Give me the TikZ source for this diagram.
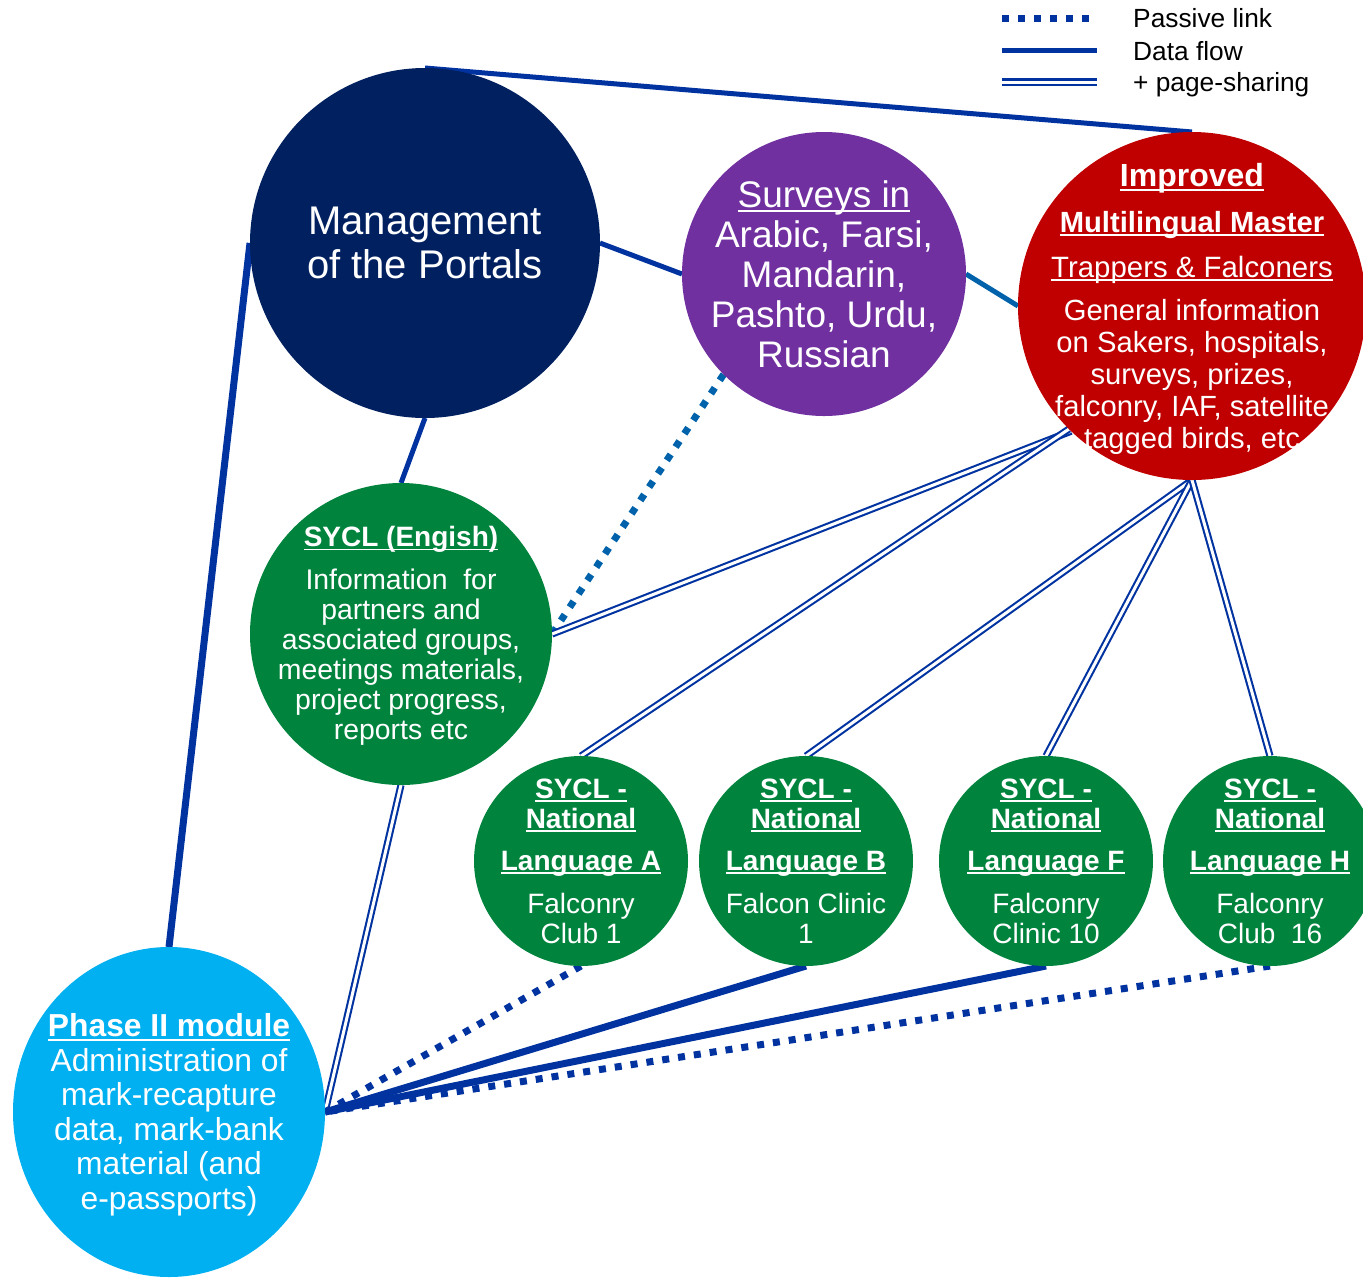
\documentclass[tikz,border=0pt]{standalone}
\usepackage{fontspec}
\setmainfont{Liberation Sans}
\usetikzlibrary{backgrounds,shapes.geometric}

\definecolor{linkblue}{HTML}{0033A0}
\definecolor{softblue}{HTML}{0062AA}
\definecolor{portalnavy}{HTML}{002060}
\definecolor{surveyviolet}{HTML}{7030A0}
\definecolor{masterred}{HTML}{C00000}
\definecolor{syclgreen}{HTML}{00843D}
\definecolor{phaseblue}{HTML}{00B0F0}

% underline drawn in the current text colour, scaled with the font
\newsavebox\ulbox
\newcommand\uln[1]{\sbox\ulbox{#1}\rlap{\rule[-0.13em]{\wd\ulbox}{0.065em}}\usebox\ulbox}

\tikzset{
  ball/.style={circle, inner sep=0pt, outer sep=0pt},
  oval/.style={ellipse, inner sep=0pt, outer sep=0pt},
  caption/.style={text=white, align=center, inner sep=0pt},
  flow/.style={draw=linkblue, line width=5pt},
  heavyflow/.style={draw=linkblue, line width=7pt},
  passive/.style={draw=linkblue, line width=7pt, dash pattern=on 7pt off 9pt},
  share/.style={draw=linkblue, line width=2.1pt, double=white, double distance=3pt},
  keytext/.style={anchor=base west, inner sep=0pt, font=\fontsize{26.3}{30}\selectfont},
}

\begin{document}
\begin{tikzpicture}[x=1pt, y=-1pt]
\useasboundingbox (0,0) rectangle (1363,1278);

% circles
\node[ball, fill=portalnavy, minimum size=350pt] (mgmt) at (425,243) {};
\node[ball, fill=surveyviolet, minimum size=284pt] (surv) at (824,274) {};
\node[ball, fill=masterred, minimum size=348pt] (master) at (1192,306) {};
\node[ball, fill=syclgreen, minimum size=302pt] (sycl) at (401,634) {};
\node[oval, fill=syclgreen, minimum width=214pt, minimum height=210pt] (langA) at (581,861) {};
\node[oval, fill=syclgreen, minimum width=214pt, minimum height=210pt] (langB) at (806,861) {};
\node[oval, fill=syclgreen, minimum width=214pt, minimum height=210pt] (langF) at (1046,861) {};
\node[oval, fill=syclgreen, minimum width=214pt, minimum height=210pt] (langH) at (1270,861) {};
\node[oval, fill=phaseblue, minimum width=312pt, minimum height=330pt] (phase) at (169,1112) {};

% texts
\node[caption, font=\fontsize{40}{44}\selectfont] (mgmtT) at (mgmt.center) {Management\\of the Portals};
\node[caption, font=\fontsize{37}{40}\selectfont] (survT) at (surv.center)
  {\uln{Surveys in}\\Arabic, Farsi,\\Mandarin,\\Pashto, Urdu,\\Russian};
\node[caption, font=\fontsize{29.2}{32}\selectfont] (masterT) at ([yshift=-3pt]master.center)
  {{\fontsize{32}{32}\selectfont\bfseries\uln{Improved}}\\[14pt]
   {\fontsize{29.2}{32}\selectfont\bfseries\uln{Multilingual Master}}\\[13pt]
   {\fontsize{29.4}{32}\selectfont\uln{Trappers \& Falconers}}\\[11pt]
   General information\\on Sakers, hospitals,\\surveys, prizes,\\falconry, IAF, satellite\\tagged birds, etc};
\node[caption, font=\fontsize{28.4}{30}\selectfont] (syclT) at ([yshift=-2pt]sycl.center)
  {{\fontsize{28}{30}\selectfont\bfseries\uln{SYCL (Engish)}}\\[13pt]
   Information\ \ for\\partners and\\associated groups,\\meetings materials,\\project progress,\\reports etc};
\node[caption, font=\fontsize{28}{30}\selectfont] (langAT) at (langA.center)
  {\bfseries\uln{SYCL -}\\\bfseries\uln{National}\\[12pt]\bfseries\uln{Language A}\\[13pt]Falconry\\Club 1};
\node[caption, font=\fontsize{28}{30}\selectfont] (langBT) at (langB.center)
  {\bfseries\uln{SYCL -}\\\bfseries\uln{National}\\[12pt]\bfseries\uln{Language B}\\[13pt]Falcon Clinic\\1};
\node[caption, font=\fontsize{28}{30}\selectfont] (langFT) at (langF.center)
  {\bfseries\uln{SYCL -}\\\bfseries\uln{National}\\[12pt]\bfseries\uln{Language F}\\[13pt]Falconry\\Clinic 10};
\node[caption, font=\fontsize{28}{30}\selectfont] (langHT) at (langH.center)
  {\bfseries\uln{SYCL -}\\\bfseries\uln{National}\\[12pt]\bfseries\uln{Language H}\\[13pt]Falconry\\Club\ \ 16};
\node[caption, font=\fontsize{31.8}{34.5}\selectfont] (phaseT) at ([yshift=-3pt]phase.center)
  {{\bfseries\uln{Phase II module}}\\Administration of\\mark-recapture\\data, mark-bank\\material (and\\e-passports)};

% connectors, kept behind the circles
\begin{scope}[on background layer]
\draw[flow] (mgmt.north) -- (master.north);
\draw[flow] (mgmt.east) -- (surv.west);
\draw[flow, draw=softblue] (surv.east) -- (master.west);
\draw[flow] (mgmt.south) -- (sycl.north);
\draw[heavyflow] (phase.north) -- (mgmt.west);
\draw[passive, draw=softblue] (surv.225) -- (sycl.east);
\draw[share] (master.226) -- (sycl.east);
\draw[share] (master.225) -- (langA.north);
\draw[share] (master.south) -- (langB.north);
\draw[share] (master.south) -- (langF.north);
\draw[share] (master.south) -- (langH.north);
\draw[share] (sycl.south) -- (phase.east);
\draw[passive] (langA.south) -- (phase.east);
\draw[heavyflow] (langB.south) -- (phase.east);
\draw[heavyflow] (langF.south) -- (phase.east);
\draw[passive] (langH.south) -- (phase.east);
\end{scope}

% legend
\coordinate (k1a) at (1002,18);  \coordinate (k1b) at (1094,18);
\coordinate (k2a) at (1002,50);  \coordinate (k2b) at (1097,50);
\coordinate (k3a) at (1002,82);  \coordinate (k3b) at (1097,82);
\draw[passive] (k1a) -- (k1b);
\draw[flow] (k2a) -- (k2b);
\draw[share] (k3a) -- (k3b);
\node[keytext] (k1t) at (1133,27) {Passive link};
\node[keytext] (k2t) at (1133,60) {Data flow};
\node[keytext] (k3t) at (1133,91) {+ page-sharing};
\end{tikzpicture}
\end{document}
